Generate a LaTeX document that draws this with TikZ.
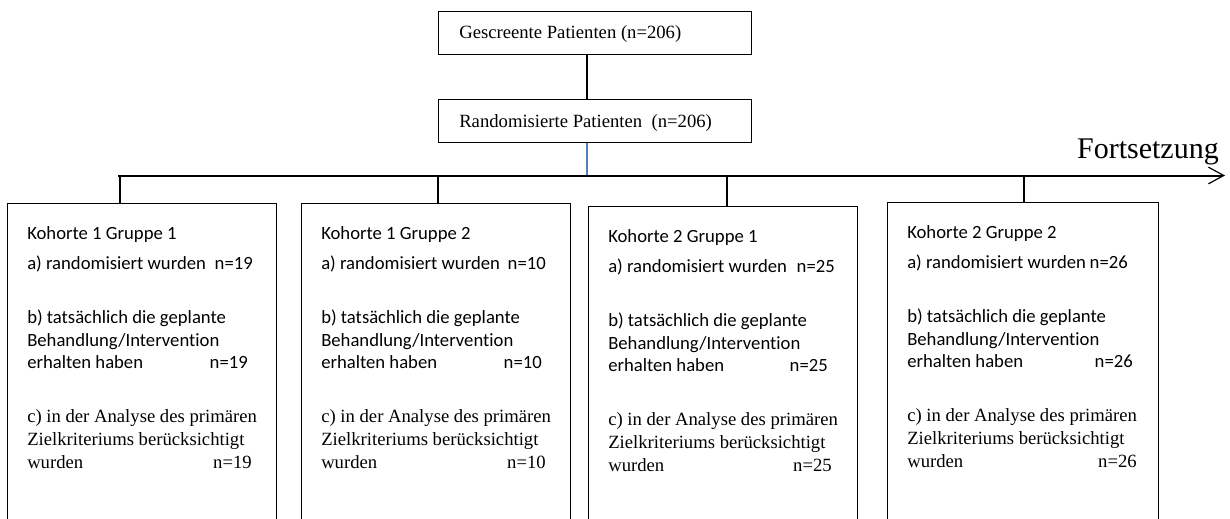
\documentclass[tikz,border=0pt]{standalone}
\usepackage{fontspec}
\setmainfont{Liberation Serif}
\newfontfamily\carlito[RawFeature={-liga;-clig;-dlig}]{Carlito}
\usetikzlibrary{arrows.meta,fit}

\definecolor{linkblue}{RGB}{79,129,189}

\tikzset{
  frame/.style={draw=black, line width=0.75pt, inner sep=0pt},
  txt/.style={inner sep=0pt, anchor=base west},
  sanslbl/.style={txt, font=\carlito\fontsize{14}{16}\selectfont},
  seriflbl/.style={txt, font=\fontsize{14}{16}\selectfont},
  conn/.style={draw=black, line width=1pt},
  bus/.style={draw=black, line width=1.5pt},
  stub/.style={draw=black, line width=1.2pt},
  bluelink/.style={draw=linkblue, line width=0.8pt}
}

% #1 name, #2 left, #3 top, #4 right, #5 heading, #6 count,
% #7 #8 #9 right ends of the three counts (relative to the left edge)
\newcommand\cohortbox[9]{%
  \node[frame, fit={(#2,#3) (#4,560)}] (#1) {};
  \begin{scope}[shift={(#2,#3)}]
    \node[sanslbl] (#1-h)  at (20,36)    {#5};
    \node[sanslbl] (#1-a)  at (20,66.5)  {a) randomisiert wurden};
    \node[sanslbl, anchor=base east] (#1-an) at (#7,66.5) {n=#6};
    \node[sanslbl] (#1-b1) at (20,120.5) {b) tatsächlich die geplante};
    \node[sanslbl] (#1-b2) at (20,143)   {Behandlung/Intervention};
    \node[sanslbl] (#1-b3) at (20,165.5) {erhalten haben};
    \node[sanslbl, anchor=base east] (#1-bn) at (#8,165.5) {n=#6};
    \node[seriflbl] (#1-c1) at (20,219)  {c) in der Analyse des primären};
    \node[seriflbl] (#1-c2) at (20,242)  {Zielkriteriums berücksichtigt};
    \node[seriflbl] (#1-c3) at (20,265)  {wurden};
    \node[seriflbl, anchor=base east] (#1-cn) at (#9,265) {n=#6};
  \end{scope}%
}

\begin{document}
\begin{tikzpicture}[x=0.75pt, y=-0.75pt]
  \useasboundingbox (0,0) rectangle (1230,518);
  \clip (0,0) rectangle (1230,518);

  % screening and randomisation
  \node[frame, fit={(438,11) (751,54)}] (screened) {};
  \node[seriflbl] (screenedtxt) at (459,38.3) {Gescreente Patienten (n=206)};
  \node[frame, fit={(438,99) (751,142)}] (random) {};
  \node[seriflbl] (randomtxt) at (459,127.3) {Randomisierte Patienten\ \ (n=206)};

  % distribution bar
  \coordinate (hub)  at (587,175.5);
  \coordinate (busL) at (118,175.5);
  \coordinate (busR) at (1225,175.5);
  \draw[conn] (screened.south -| hub) -- (random.north -| hub);
  \draw[bluelink] (random.south -| hub) -- (hub);
  \draw[bus, -{Straight Barb[length=11.5pt, width=12.5pt, line width=0.9pt]}] (busL) -- (busR);
  \node[txt, anchor=base east, font=\fontsize{22.5}{26}\selectfont] (cont) at (1219,158) {Fortsetzung};

  % cohorts
  \cohortbox{k11}{7}{203}{276}{Kohorte 1 Gruppe 1}{19}{246}{241}{245}
  \cohortbox{k12}{301}{203}{570}{Kohorte 1 Gruppe 2}{10}{245}{241}{245}
  \cohortbox{k21}{588}{206}{857}{Kohorte 2 Gruppe 1}{25}{247}{240}{244}
  \cohortbox{k22}{887}{202}{1158}{Kohorte 2 Gruppe 2}{26}{241}{246}{250}

  % stubs from the bar down to each cohort
  \coordinate (s1) at (120,175.5);
  \coordinate (s2) at (438,175.5);
  \coordinate (s3) at (727,175.5);
  \coordinate (s4) at (1024,175.5);
  \draw[stub] (s1) -- (s1 |- k11.north);
  \draw[stub] (s2) -- (s2 |- k12.north);
  \draw[stub] (s3) -- (s3 |- k21.north);
  \draw[stub] (s4) -- (s4 |- k22.north);
\end{tikzpicture}
\end{document}
